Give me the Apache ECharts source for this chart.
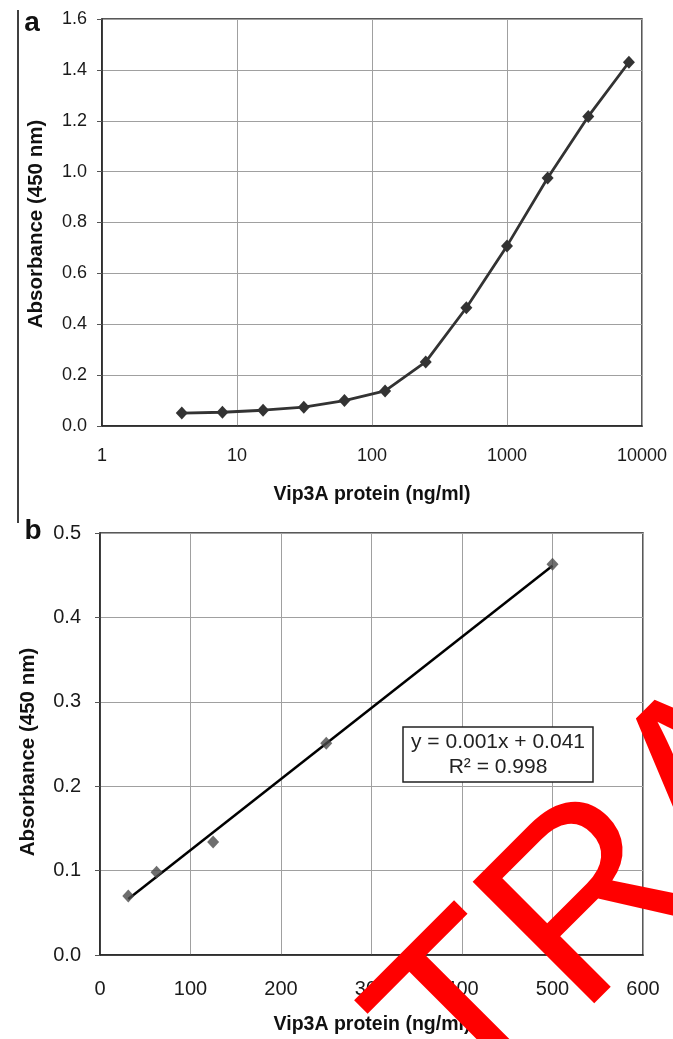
<!DOCTYPE html>
<html>
<head>
<meta charset="utf-8">
<script src="https://cdn.jsdelivr.net/npm/echarts@6/dist/echarts.min.js"></script>
<style>
html,body{margin:0;padding:0;background:#fff;}
#c{width:673px;height:1039px;}
</style>
</head>
<body>
<div id="c"></div>
<script>
// Panel a: dose-response (log x)
var concA = [3.9, 7.8, 15.6, 31.25, 62.5, 125, 250, 500, 1000, 2000, 4000, 8000];
var absA  = [0.051, 0.054, 0.062, 0.074, 0.100, 0.138, 0.252, 0.465, 0.708, 0.975, 1.217, 1.430];
var xTicksA = ['1', '10', '100', '1000', '10000'];
var yTicksA = ['0.0', '0.2', '0.4', '0.6', '0.8', '1.0', '1.2', '1.4', '1.6'];

// Panel b: linear range
var concB = [31.25, 62.5, 125, 250, 500];
var absB  = [0.070, 0.098, 0.134, 0.251, 0.463];
var xTicksB = ['0', '100', '200', '300', '400', '500', '600'];
var yTicksB = ['0.0', '0.1', '0.2', '0.3', '0.4', '0.5'];

var eqText = ['y = 0.001x + 0.041', 'R\u00b2 = 0.998'];
var titleX = 'Vip3A protein (ng/ml)';
var titleY = 'Absorbance (450 nm)';
var panelLabels = ['a', 'b'];
var watermark = 'TRA';

// least-squares trendline from panel b data
function fit(xs, ys) {
  var n = xs.length, mx = 0, my = 0;
  for (var i = 0; i < n; i++) { mx += xs[i]; my += ys[i]; }
  mx /= n; my /= n;
  var sxx = 0, sxy = 0;
  for (var j = 0; j < n; j++) { sxx += (xs[j]-mx)*(xs[j]-mx); sxy += (xs[j]-mx)*(ys[j]-my); }
  var k = sxy / sxx;
  return { k: k, b: my - k * mx };
}
var f = fit(concB, absB);
var xMinB = Math.min.apply(null, concB), xMaxB = Math.max.apply(null, concB);
var trend = [[xMinB, f.k * xMinB + f.b], [xMaxB, f.k * xMaxB + f.b]];

var FONT = 'Liberation Sans, Arial, sans-serif';
var gridColor = '#a0a0a0';
var axisColor = '#222';

function logLabel(v) {
  var e = Math.round(Math.log(v) / Math.LN10);
  return xTicksA[e] !== undefined ? xTicksA[e] : '';
}
function yLabel(ticks, step) {
  return function (v) { var i = Math.round(v / step); return ticks[i] !== undefined ? ticks[i] : ''; };
}
function xLabelB(v) { var i = Math.round(v / 100); return xTicksB[i] !== undefined ? xTicksB[i] : ''; }

var chart = echarts.init(document.getElementById('c'), null, { renderer: 'canvas' });
chart.setOption({
  animation: false,
  backgroundColor: '#fff',
  grid: [
    { left: 102, top: 19, width: 540, height: 407, show: true, borderColor: axisColor, borderWidth: 1.5, backgroundColor: 'transparent' },
    { left: 100, top: 533, width: 543, height: 422, show: true, borderColor: axisColor, borderWidth: 1.5, backgroundColor: 'transparent' }
  ],
  xAxis: [
    {
      gridIndex: 0, type: 'log', logBase: 10, min: 1, max: 10000,
      axisLine: { show: true, lineStyle: { color: axisColor, width: 1.5 } },
      axisTick: { show: false },
      minorTick: { show: false },
      axisLabel: { margin: 21, color: '#1a1a1a', fontSize: 18, fontFamily: FONT, formatter: logLabel },
      splitLine: { show: true, lineStyle: { color: gridColor, width: 1 } }
    },
    {
      gridIndex: 1, type: 'value', min: 0, max: 600, interval: 100,
      axisLine: { show: true, lineStyle: { color: axisColor, width: 1.5 } },
      axisTick: { show: false },
      axisLabel: { margin: 24, color: '#1a1a1a', fontSize: 20, fontFamily: FONT, formatter: xLabelB },
      splitLine: { show: true, lineStyle: { color: gridColor, width: 1 } }
    }
  ],
  yAxis: [
    {
      gridIndex: 0, type: 'value', min: 0, max: 1.6, interval: 0.2,
      axisLine: { show: true, lineStyle: { color: axisColor, width: 1.5 } },
      axisTick: { show: true, length: 5, lineStyle: { color: '#555' } },
      axisLabel: { margin: 15, color: '#1a1a1a', fontSize: 18, fontFamily: FONT, formatter: yLabel(yTicksA, 0.2) },
      splitLine: { show: true, lineStyle: { color: gridColor, width: 1 } }
    },
    {
      gridIndex: 1, type: 'value', min: 0, max: 0.5, interval: 0.1,
      axisLine: { show: true, lineStyle: { color: axisColor, width: 1.5 } },
      axisTick: { show: true, length: 5, lineStyle: { color: '#555' } },
      axisLabel: { margin: 19, color: '#1a1a1a', fontSize: 20, fontFamily: FONT, formatter: yLabel(yTicksB, 0.1) },
      splitLine: { show: true, lineStyle: { color: gridColor, width: 1 } }
    }
  ],
  series: [
    {
      type: 'line', xAxisIndex: 0, yAxisIndex: 0,
      data: concA.map(function (x, i) { return [x, absA[i]]; }),
      symbol: 'diamond', symbolSize: [12, 13],
      lineStyle: { color: '#333', width: 2.8 },
      itemStyle: { color: '#333' }
    },
    {
      type: 'line', xAxisIndex: 1, yAxisIndex: 1,
      data: trend, symbol: 'none',
      lineStyle: { color: '#000', width: 2.5 }, z: 2
    },
    {
      type: 'scatter', xAxisIndex: 1, yAxisIndex: 1,
      data: concB.map(function (x, i) { return [x, absB[i]]; }),
      symbol: 'diamond', symbolSize: [12, 13],
      itemStyle: { color: '#4a4a4a' }, z: 3
    }
  ],
  graphic: [
    { type: 'line', shape: { x1: 18, y1: 10, x2: 18, y2: 523 }, style: { stroke: '#000', lineWidth: 1.5 } },
    { type: 'text', x: 32, y: 23, style: { text: panelLabels[0], font: 'bold 28px ' + FONT, fill: '#111', textAlign: 'center', textVerticalAlign: 'middle' } },
    { type: 'text', x: 33, y: 531, style: { text: panelLabels[1], font: 'bold 28px ' + FONT, fill: '#111', textAlign: 'center', textVerticalAlign: 'middle' } },
    { type: 'text', x: 372, y: 495, style: { text: titleX, font: 'bold 19.5px ' + FONT, fill: '#111', textAlign: 'center', textVerticalAlign: 'middle' } },
    { type: 'text', x: 372, y: 1025, style: { text: titleX, font: 'bold 19.5px ' + FONT, fill: '#111', textAlign: 'center', textVerticalAlign: 'middle' } },
    { type: 'text', x: 36, y: 224, rotation: Math.PI / 2, style: { text: titleY, font: 'bold 20.5px ' + FONT, fill: '#111', textAlign: 'center', textVerticalAlign: 'middle' } },
    { type: 'text', x: 28, y: 752, rotation: Math.PI / 2, style: { text: titleY, font: 'bold 20.5px ' + FONT, fill: '#111', textAlign: 'center', textVerticalAlign: 'middle' } },
    { type: 'rect', shape: { x: 403, y: 727, width: 190, height: 55 }, style: { fill: '#fff', stroke: '#222', lineWidth: 1.5 }, z: 10 },
    { type: 'text', x: 498, y: 742, z: 11, style: { text: eqText[0], font: '21px ' + FONT, fill: '#222', textAlign: 'center', textVerticalAlign: 'middle' } },
    { type: 'text', x: 498, y: 767, z: 11, style: { text: eqText[1], font: '21px ' + FONT, fill: '#222', textAlign: 'center', textVerticalAlign: 'middle' } },
    { type: 'text', x: 423, y: 1077, rotation: Math.PI / 4, z: 20, style: { text: watermark, font: '250px ' + FONT, fill: '#ff0000', textAlign: 'left', textVerticalAlign: 'middle' } }
  ]
});
</script>
</body>
</html>
